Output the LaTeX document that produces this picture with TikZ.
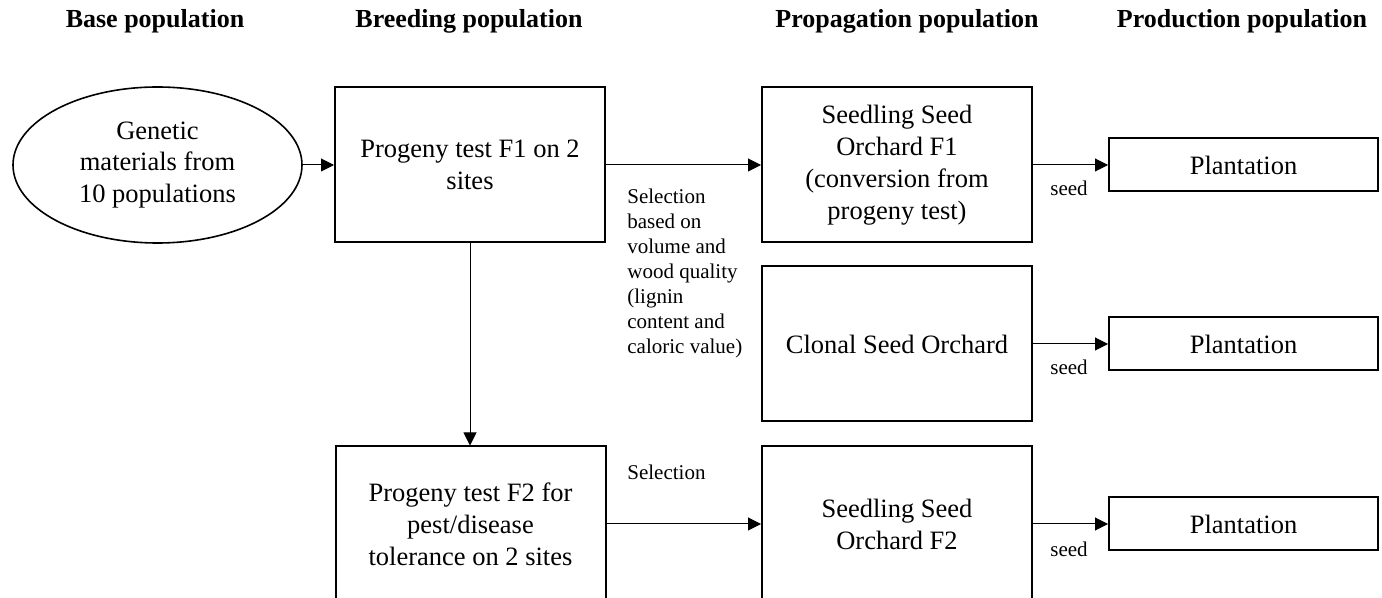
\documentclass[tikz,border=0pt]{standalone}
\usepackage{fontspec}
\setmainfont{Liberation Serif}
\usetikzlibrary{shapes.geometric,arrows.meta}
\begin{document}
\begin{tikzpicture}[x=0.5pt,y=-0.5pt,
  box/.style={draw, line width=1pt, minimum width=135pt, minimum height=77.5pt, align=center, inner sep=2pt, font=\fontsize{13.25}{16}\selectfont},
  plant/.style={draw, line width=1pt, minimum width=134.5pt, minimum height=26.5pt, inner sep=0pt, font=\fontsize{13.25}{16}\selectfont},
  oval/.style={draw, ellipse, line width=0.8pt, minimum width=144.5pt, minimum height=78pt, inner sep=0pt, align=center, font=\fontsize{13.25}{15.75}\selectfont},
  hdr/.style={font=\bfseries\fontsize{13}{15}\selectfont, anchor=base, inner sep=0pt},
  lbl/.style={font=\fontsize{10.5}{12.5}\selectfont, align=left, inner sep=0pt},
  arr/.style={line width=0.5pt, -{Triangle[length=6.5pt,width=6.5pt]}}
]
\useasboundingbox (0,0) rectangle (1382,598);
\clip (0,0) rectangle (1382,598);

% headers
\node[hdr] (h1) at (155,28) {Base population};
\node[hdr] (h2) at (469,28) {Breeding population};
\node[hdr] (h3) at (907,28) {Propagation population};
\node[hdr] (h4) at (1242,28) {Production population};

% nodes
\node[oval] (e) at (157.5,165) {Genetic\\materials from\\10 populations};
\node[box] (f1) at (470,165) {Progeny test F1 on 2\\sites};
\node[box] (f2) at (470.5,524) {Progeny test F2 for\\pest/disease\\tolerance on 2 sites};
\node[box] (s1) at (897,165) {Seedling Seed\\Orchard F1\\(conversion from\\progeny test)};
\node[box] (cso) at (897,344) {Clonal Seed Orchard};
\node[box] (s2) at (897,524) {Seedling Seed\\Orchard F2};
\node[plant] (p1) at (1243.5,165) {Plantation};
\node[plant] (p2) at (1243.5,344) {Plantation};
\node[plant] (p3) at (1243.5,524) {Plantation};

% labels
\node[lbl, anchor=north west] (sel1) at (627,189) {Selection\\based on\\volume and\\wood quality\\(lignin\\content and\\caloric value)};
\node[lbl, anchor=north west] (sel2) at (627,465) {Selection};
\node[lbl, anchor=base] (sd1) at (1069,196) {seed};
\node[lbl, anchor=base] (sd2) at (1069,375) {seed};
\node[lbl, anchor=base] (sd3) at (1069,557) {seed};

% connectors
\draw[arr] (e) -- (f1);
\draw[arr] (f1) -- (s1);
\draw[arr] (f1.south) -- (f1.south |- f2.north);
\draw[arr] (f2) -- (s2);
\draw[arr] (s1) -- (p1);
\draw[arr] (cso) -- (p2);
\draw[arr] (s2) -- (p3);
\end{tikzpicture}
\end{document}
